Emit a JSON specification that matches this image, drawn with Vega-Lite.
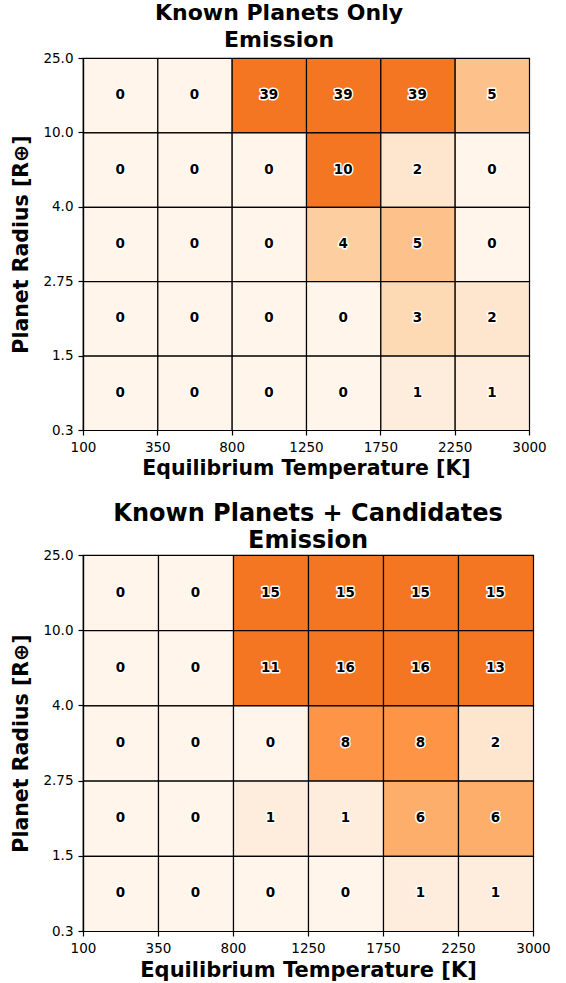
{
  "$schema": "https://vega.github.io/schema/vega-lite/v6.json",
  "padding": {"left": 11, "top": 0, "right": 0, "bottom": 0},
  "background": "white",
  "spacing": 21,
  "columns": 1,
  "align": "none",
  "config": {
    "font": "DejaVu Sans",
    "view": {"stroke": "black", "strokeWidth": 1.2},
    "axis": {
      "grid": false,
      "domainColor": "black",
      "domainWidth": 1.2,
      "tickColor": "black",
      "tickWidth": 1.2,
      "tickSize": 5,
      "labelFont": "DejaVu Sans",
      "labelFontSize": 13.5,
      "labelColor": "black",
      "labelFlush": false,
      "labelOverlap": false,
      "labelBound": false,
      "titleFont": "DejaVu Sans",
      "titleFontWeight": "bold",
      "titleColor": "black"
    },
    "title": {"font": "DejaVu Sans", "fontWeight": "bold", "color": "black", "anchor": "middle"}
  },
  "datasets": {
    "known": [
      {"t": 0, "r": 4, "n": 0},
      {"t": 1, "r": 4, "n": 0},
      {"t": 2, "r": 4, "n": 39},
      {"t": 3, "r": 4, "n": 39},
      {"t": 4, "r": 4, "n": 39},
      {"t": 5, "r": 4, "n": 5},
      {"t": 0, "r": 3, "n": 0},
      {"t": 1, "r": 3, "n": 0},
      {"t": 2, "r": 3, "n": 0},
      {"t": 3, "r": 3, "n": 10},
      {"t": 4, "r": 3, "n": 2},
      {"t": 5, "r": 3, "n": 0},
      {"t": 0, "r": 2, "n": 0},
      {"t": 1, "r": 2, "n": 0},
      {"t": 2, "r": 2, "n": 0},
      {"t": 3, "r": 2, "n": 4},
      {"t": 4, "r": 2, "n": 5},
      {"t": 5, "r": 2, "n": 0},
      {"t": 0, "r": 1, "n": 0},
      {"t": 1, "r": 1, "n": 0},
      {"t": 2, "r": 1, "n": 0},
      {"t": 3, "r": 1, "n": 0},
      {"t": 4, "r": 1, "n": 3},
      {"t": 5, "r": 1, "n": 2},
      {"t": 0, "r": 0, "n": 0},
      {"t": 1, "r": 0, "n": 0},
      {"t": 2, "r": 0, "n": 0},
      {"t": 3, "r": 0, "n": 0},
      {"t": 4, "r": 0, "n": 1},
      {"t": 5, "r": 0, "n": 1}
    ],
    "cand": [
      {"t": 0, "r": 4, "n": 0},
      {"t": 1, "r": 4, "n": 0},
      {"t": 2, "r": 4, "n": 15},
      {"t": 3, "r": 4, "n": 15},
      {"t": 4, "r": 4, "n": 15},
      {"t": 5, "r": 4, "n": 15},
      {"t": 0, "r": 3, "n": 0},
      {"t": 1, "r": 3, "n": 0},
      {"t": 2, "r": 3, "n": 11},
      {"t": 3, "r": 3, "n": 16},
      {"t": 4, "r": 3, "n": 16},
      {"t": 5, "r": 3, "n": 13},
      {"t": 0, "r": 2, "n": 0},
      {"t": 1, "r": 2, "n": 0},
      {"t": 2, "r": 2, "n": 0},
      {"t": 3, "r": 2, "n": 8},
      {"t": 4, "r": 2, "n": 8},
      {"t": 5, "r": 2, "n": 2},
      {"t": 0, "r": 1, "n": 0},
      {"t": 1, "r": 1, "n": 0},
      {"t": 2, "r": 1, "n": 1},
      {"t": 3, "r": 1, "n": 1},
      {"t": 4, "r": 1, "n": 6},
      {"t": 5, "r": 1, "n": 6},
      {"t": 0, "r": 0, "n": 0},
      {"t": 1, "r": 0, "n": 0},
      {"t": 2, "r": 0, "n": 0},
      {"t": 3, "r": 0, "n": 0},
      {"t": 4, "r": 0, "n": 1},
      {"t": 5, "r": 0, "n": 1}
    ]
  },
  "concat": [
    {
      "width": 446,
      "height": 372,
      "title": {"text": ["Known Planets Only", "Emission"], "frame": "bounds", "offset": -1, "fontSize": 22, "lineHeight": 27.5},
      "data": {"name": "known"},
      "encoding": {
        "x": {"field": "t", "type": "quantitative", "bin": {"step": 1, "extent": [0, 6]},
          "scale": {"domain": [0, 6], "nice": false, "zero": false},
          "axis": {"values": [0, 1, 2, 3, 4, 5, 6], "labelPadding": 5.5, "titlePadding": 4, "title": "Equilibrium Temperature [K]", "titleFontSize": 20.5,
            "labelExpr": "['100','350','800','1250','1750','2250','3000'][datum.value]"}},
        "y": {"field": "r", "type": "quantitative", "bin": {"step": 1, "extent": [0, 5]},
          "scale": {"domain": [0, 5], "nice": false, "zero": false},
          "axis": {"values": [0, 1, 2, 3, 4, 5], "labelPadding": 5, "titlePadding": 11, "title": "Planet Radius [R⊕]", "titleFontSize": 20.5,
            "labelExpr": "['0.3','1.5','2.75','4.0','10.0','25.0'][datum.value]"}}
      },
      "layer": [
        {"mark": {"type": "rect", "stroke": "black", "strokeWidth": 1.2},
         "encoding": {"color": {"field": "n", "type": "quantitative", "legend": null,
           "scale": {"type": "linear", "clamp": true, "domain": [0, 1, 2, 3, 4, 5, 6, 8, 10],
             "range": ["#fff5eb", "#feeddc", "#fee6ce", "#fdd9b4", "#fdcfa0", "#fdc28c", "#fdae6b", "#fd9446", "#f47623"]}}}},
        {"mark": {"type": "text", "fontSize": 13.5, "fontWeight": "bold", "stroke": "white", "strokeWidth": 3, "strokeJoin": "round", "fill": "white"},
         "encoding": {"text": {"field": "n", "type": "quantitative"}}},
        {"mark": {"type": "text", "fontSize": 13.5, "fontWeight": "bold", "fill": "black"},
         "encoding": {"text": {"field": "n", "type": "quantitative"}}}
      ]
    },
    {
      "width": 450,
      "height": 376,
      "title": {"text": ["Known Planets + Candidates", "Emission"], "frame": "group", "offset": -5, "fontSize": 24, "lineHeight": 27},
      "data": {"name": "cand"},
      "encoding": {
        "x": {"field": "t", "type": "quantitative", "bin": {"step": 1, "extent": [0, 6]},
          "scale": {"domain": [0, 6], "nice": false, "zero": false},
          "axis": {"values": [0, 1, 2, 3, 4, 5, 6], "labelPadding": 5.5, "titlePadding": 4, "title": "Equilibrium Temperature [K]", "titleFontSize": 21,
            "labelExpr": "['100','350','800','1250','1750','2250','3000'][datum.value]"}},
        "y": {"field": "r", "type": "quantitative", "bin": {"step": 1, "extent": [0, 5]},
          "scale": {"domain": [0, 5], "nice": false, "zero": false},
          "axis": {"values": [0, 1, 2, 3, 4, 5], "labelPadding": 5, "titlePadding": 11, "title": "Planet Radius [R⊕]", "titleFontSize": 20.5,
            "labelExpr": "['0.3','1.5','2.75','4.0','10.0','25.0'][datum.value]"}}
      },
      "layer": [
        {"mark": {"type": "rect", "stroke": "black", "strokeWidth": 1.2},
         "encoding": {"color": {"field": "n", "type": "quantitative", "legend": null,
           "scale": {"type": "linear", "clamp": true, "domain": [0, 1, 2, 3, 4, 5, 6, 8, 10],
             "range": ["#fff5eb", "#feeddc", "#fee6ce", "#fdd9b4", "#fdcfa0", "#fdc28c", "#fdae6b", "#fd9446", "#f47623"]}}}},
        {"mark": {"type": "text", "fontSize": 13.5, "fontWeight": "bold", "stroke": "white", "strokeWidth": 3, "strokeJoin": "round", "fill": "white"},
         "encoding": {"text": {"field": "n", "type": "quantitative"}}},
        {"mark": {"type": "text", "fontSize": 13.5, "fontWeight": "bold", "fill": "black"},
         "encoding": {"text": {"field": "n", "type": "quantitative"}}}
      ]
    }
  ]
}
